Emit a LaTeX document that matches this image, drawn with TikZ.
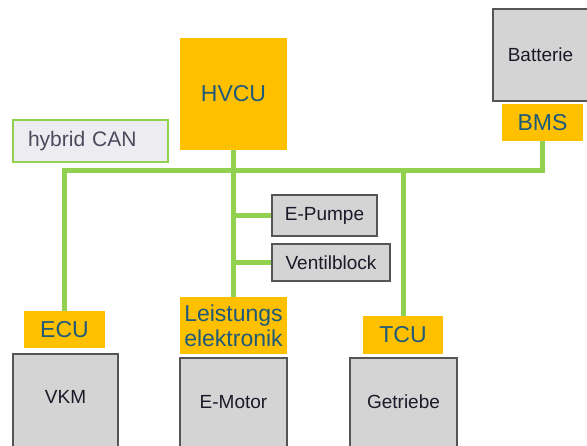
\documentclass[tikz,border=0pt]{standalone}
\usepackage{fontspec}
\setmainfont{Liberation Sans}
\definecolor{ora}{HTML}{FFC000}
\definecolor{oratext}{HTML}{1F5A7A}
\definecolor{grn}{HTML}{92D050}
\definecolor{gfill}{HTML}{D4D4D4}
\definecolor{gline}{HTML}{555555}
\definecolor{gtext}{HTML}{1A1A28}
\definecolor{canfill}{HTML}{EDEDF1}
\definecolor{cantext}{HTML}{4A4A5E}
\tikzset{
  orabox/.style={fill=ora, draw=none, inner sep=0pt, text=oratext, font=\fontsize{23}{25}\selectfont, align=center},
  graybox/.style={fill=gfill, draw=gline, line width=1.6pt, inner sep=0pt},
  graytext/.style={text=gtext, font=\fontsize{19}{22}\selectfont, inner sep=0pt},
  bus/.style={draw=grn, line width=5pt, line join=miter}
}
\begin{document}
\begin{tikzpicture}[x=1pt,y=-1pt]
\useasboundingbox[fill=white] (0,0) rectangle (587,446);
\coordinate (bus) at (0,171);
% orange controllers
\node[orabox, minimum width=107pt, minimum height=112pt] (hvcu) at (233.5,94) {HVCU};
\node[orabox, minimum width=81pt, minimum height=37pt] (bms) at (542.5,122.5) {BMS};
\node[orabox, minimum width=81pt, minimum height=37pt] (ecu) at (64.5,329.5) {ECU};
\node[orabox, minimum width=107pt, minimum height=57pt] (leist) at (233.5,325.5) {Leistungs\\elektronik};
\node[orabox, minimum width=80pt, minimum height=38pt] (tcu) at (403,335) {TCU};
% hybrid CAN
\node[fill=canfill, draw=grn, line width=1.2pt, text=cantext, font=\fontsize{21}{24}\selectfont,
      text width=125pt, align=left, inner xsep=15pt, minimum height=42pt, inner ysep=0pt] (can) at (90.5,141) {hybrid CAN};
% gray boxes
\node[graybox, graytext, minimum width=105pt, minimum height=41pt] (epumpe) at (324.5,215.5) {E-Pumpe};
\node[graybox, graytext, minimum width=118pt, minimum height=37pt] (ventil) at (331,262.5) {Ventilblock};
\node[graybox, minimum width=95pt, minimum height=92pt] (batt) at (540.5,55) {};
\node[graytext] (batttext) at (batt.center) {Batterie};
\node[graybox, minimum width=105pt, minimum height=110pt, anchor=north] (vkm) at (65.5,353) {};
\node[graytext] (vkmtext) at (65.5,397) {VKM};
\node[graybox, minimum width=107pt, minimum height=110pt, anchor=north] (emot) at (233.5,357) {};
\node[graytext] (emottext) at (233.5,402) {E-Motor};
\node[graybox, minimum width=107pt, minimum height=110pt, anchor=north] (getr) at (403.5,357) {};
\node[graytext] (getrtext) at (403.5,402) {Getriebe};
% bus lines
\draw[bus] (ecu.north) -- (ecu.north |- bus) -- (bms.south |- bus) -- (bms.south);
\draw[bus] (hvcu.south) -- (leist.north);
\draw[bus] (tcu.north) -- (tcu.north |- bus);
\draw[bus] (epumpe.west) -- (epumpe.west -| hvcu.south);
\draw[bus] (ventil.west) -- (ventil.west -| hvcu.south);
\end{tikzpicture}
\end{document}
